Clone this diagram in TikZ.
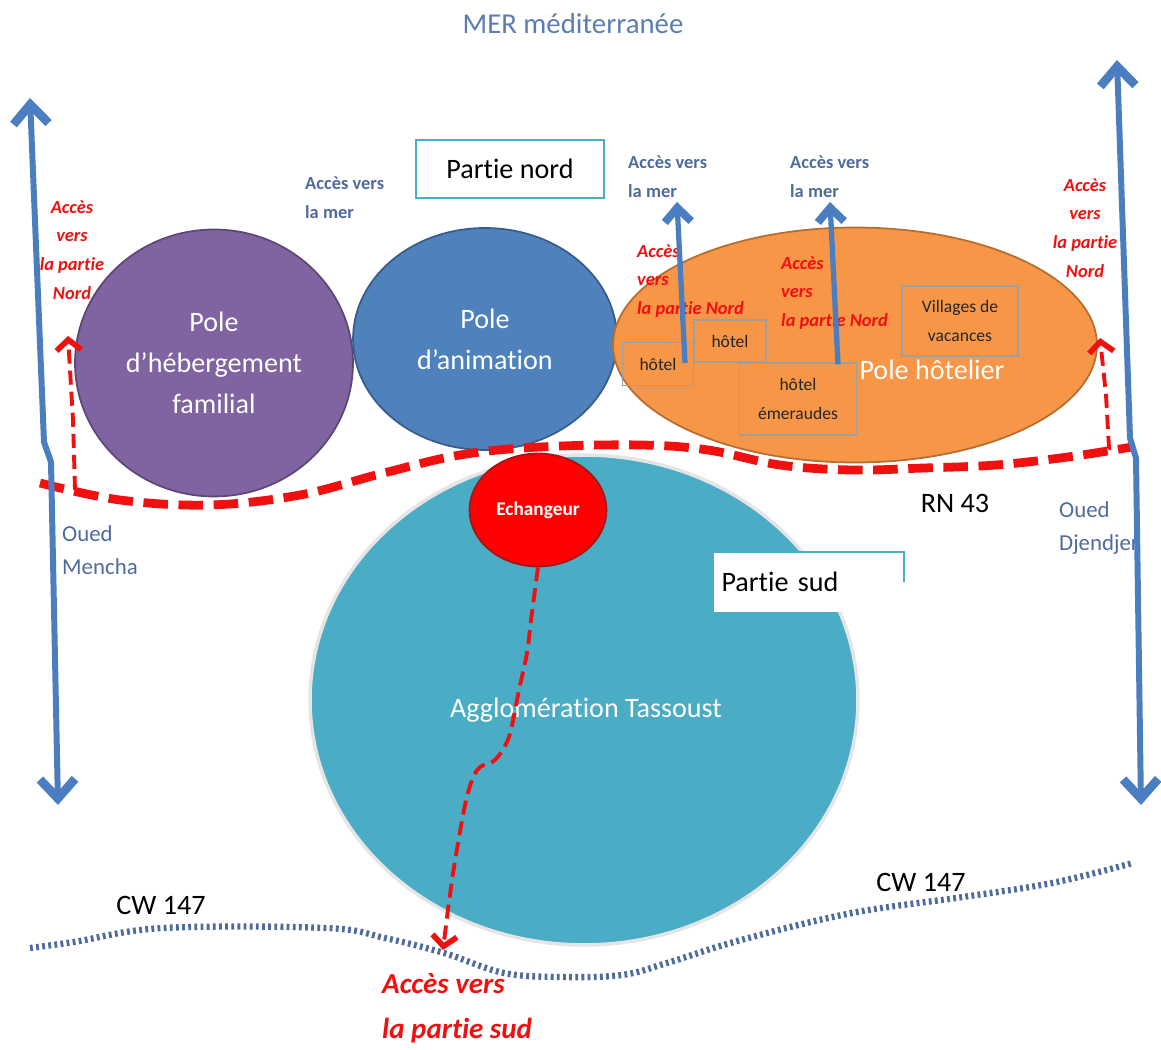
\documentclass[tikz,border=0pt]{standalone}
\usepackage{fontspec}
\setmainfont{Carlito}[Ligatures=NoCommon]
\usepackage{tikz}
\usetikzlibrary{shapes.geometric, arrows.meta, calc}
\definecolor{poleViolet}{HTML}{8064A2}
\definecolor{poleVioletDark}{HTML}{5C4776}
\definecolor{poleBleu}{HTML}{4F81BD}
\definecolor{poleBleuDark}{HTML}{385D8A}
\definecolor{poleOrange}{HTML}{F79646}
\definecolor{poleOrangeDark}{HTML}{B66D31}
\definecolor{aggloTeal}{HTML}{4BACC6}
\definecolor{echRouge}{HTML}{FF0000}
\definecolor{echRougeDark}{HTML}{A01818}
\definecolor{oued}{HTML}{4A7EC0}
\definecolor{ardoise}{HTML}{4F6B9C}
\definecolor{titreBleu}{HTML}{5B7DB0}
\definecolor{routeRouge}{HTML}{F01010}

\begin{document}
\begin{tikzpicture}[
    x=0.02cm, y=-0.02cm,
    pole/.style={
        ellipse, draw, line width=1pt, inner sep=0pt,
        text=white, align=center, font=\fontsize{16}{23.3}\selectfont
    },
    hotelbox/.style={draw=gray!75, line width=0.6pt, inner sep=0pt,
        align=center, text=black!85, font=\fontsize{10}{16.5}\selectfont},
    partie/.style={draw=aggloTeal, line width=1.2pt, fill=white,
        font=\fontsize{16}{19}\selectfont},
    merlabel/.style={text=ardoise, align=left, anchor=west,
        font=\bfseries\fontsize{10.5}{16.5}\selectfont},
    nordlabel/.style={text=routeRouge, font=\bfseries\itshape\fontsize{10.5}{16.3}\selectfont},
    ouedlabel/.style={text=ardoise, align=left, anchor=west,
        font=\fontsize{13}{19}\selectfont},
    routelabel/.style={text=black, font=\fontsize{16}{19}\selectfont},
    river/.style={draw=oued, line width=3.4pt, line join=round,
        {Straight Barb[length=11pt,width=20pt,line width=5pt]}-{Straight Barb[length=11pt,width=20pt,line width=5pt]}},
    merarrow/.style={draw=oued, line width=3pt, -{Straight Barb[length=8pt,width=15pt,line width=4.5pt]}},
    rn/.style={draw=routeRouge, line width=5pt, dash pattern=on 14pt off 6pt},
    acces/.style={draw=routeRouge, line width=2.2pt, line join=round,
        dash pattern=on 8pt off 4pt, -{Straight Barb[length=6pt,width=14pt,line width=3.2pt]}},
    cw/.style={draw=ardoise, line width=3.6pt, dash pattern=on 1.6pt off 1.9pt},
]
    \useasboundingbox (0,0) rectangle (1161,1050);

    % poles
    \node[pole, fill=aggloTeal, draw=gray!20, line width=2pt,
        minimum width=10.96cm, minimum height=9.8cm] (agglo) at (584,700) {};
    \node[text=white, font=\fontsize{16}{19}\selectfont] (aggloTxt) at (586,710) {Agglomération Tassoust};
    \node[pole, fill=poleViolet, draw=poleVioletDark,
        minimum width=5.56cm, minimum height=5.34cm] (familial) at (214,363) {Pole\\d’hébergement\\familial};
    \node[pole, fill=poleBleu, draw=poleBleuDark,
        minimum width=5.28cm, minimum height=4.44cm] (animation) at (485,339) {Pole\\d’animation};
    \node[pole, fill=poleOrange, draw=poleOrangeDark,
        minimum width=9.68cm, minimum height=4.7cm] (hotelier) at (855,345) {};
    \node[pole, fill=echRouge, draw=echRougeDark, minimum width=2.74cm, minimum height=2.26cm,
        font=\bfseries\fontsize{11}{13}\selectfont] (echangeur) at (538,510) {Echangeur};

    % hotels
    \node[hotelbox, minimum width=1.42cm, minimum height=0.86cm] (hotelA) at (658,364) {hôtel};
    \node[hotelbox, minimum width=1.44cm, minimum height=0.84cm] (hotelB) at (730,341) {hôtel};
    \node[hotelbox, minimum width=2.34cm, minimum height=1.44cm] (emeraudes) at (798,399) {hôtel\\émeraudes};
    \node[hotelbox, minimum width=2.32cm, minimum height=1.4cm] (villages) at (960,321) {Villages de\\vacances};
    \node[text=white, font=\fontsize{16}{19}\selectfont] (hotelierTxt) at (932,370) {Pole hôtelier};

    % parties
    \node[partie, minimum width=3.76cm, minimum height=1.16cm] (nord) at (510,169) {Partie nord};
    \node[fill=white, inner sep=4pt, minimum height=1.2cm, text width=3.5cm, align=left,
        font=\fontsize{16}{19}\selectfont] (sud) at (809,582) {Partie sud};
    \draw[aggloTeal, line width=1.2pt] (sud.north west) -- (sud.north east) -- (sud.east);

    % labels
    \node[text=titreBleu, font=\fontsize{16.4}{20}\selectfont] (mer) at (573,24) {MER méditerranée};
    \node[merlabel] (merA) at (622,177) {Accès vers\\la mer};
    \node[merlabel] (merB) at (784,177) {Accès vers\\la mer};
    \node[merlabel] (merC) at (299,198) {Accès vers\\la mer};
    \node[nordlabel, align=center] (nordOuest) at (72,250) {Accès\\vers\\la partie\\Nord};
    \node[nordlabel, align=left, anchor=west] (nordHotelA) at (631,281) {Accès\\vers\\la partie Nord};
    \node[nordlabel, align=left, anchor=west] (nordHotelB) at (775,293) {Accès\\vers\\la partie Nord};
    \node[nordlabel, align=center] (nordEst) at (1085,228) {Accès\\vers\\la partie\\Nord};
    \node[ouedlabel] (mencha) at (56,550) {Oued\\Mencha};
    \node[ouedlabel] (djendjer) at (1053,528) {Oued\\Djendjer};
    \node[routelabel] (rn43) at (955,503) {RN 43};
    \node[routelabel] (cwOuest) at (161,905) {CW 147};
    \node[routelabel] (cwEst) at (921,882) {CW 147};
    \node[text=routeRouge, align=left, anchor=west,
        font=\bfseries\itshape\fontsize{16.5}{25.6}\selectfont] (accesSud) at (376,1008) {Accès vers\\la partie sud};

    % acces vers la mer
    \coordinate (merDepartA) at ($(hotelA.east)+(-9,-1)$);
    \coordinate (merFinA) at (677,202);
    \coordinate (merDepartB) at ($(emeraudes.north)+(40,2)$);
    \coordinate (merFinB) at (830,202);
    \draw[merarrow] (merDepartA) -- (merFinA);
    \draw[merarrow] (merDepartB) -- (merFinB);

    % routes
    \draw[rn] plot[smooth, tension=0.6] coordinates {(40,483) (120,500) (210,505) (300,495) (380,474)
        (460,455) (540,447) (640,445) (708,450) (780,465) (852,470) (924,468) (996,465) (1068,457) (1132,447)};
    \draw[cw] plot[smooth, tension=0.6] coordinates {(30,948) (74,942) (163,928) (326,928) (385,938)
        (444,953) (504,973) (563,977) (622,975) (667,963) (741,940) (852,913) (963,897) (1052,883) (1133,863)};

    \coordinate (rnOuest) at (75,490);
    \coordinate (nordTipOuest) at (68,336);
    \coordinate (rnEst) at (1132,447);
    \coordinate (nordTipEst) at (1100,338);
    \coordinate (sudTip) at (443,950);
    \draw[acces] (rnOuest) -- (73,420) -- (nordTipOuest);
    \draw[acces] (rnEst) -- (1109,448) -- (1106,395) -- (nordTipEst);
    \draw[acces] plot[smooth, tension=0.5] coordinates {(echangeur.south) (531,620) (527,653) (519,690)
        (509,737) (495,760) (480,767) (472,780) (464,810) (452,880) (sudTip)};

    % oueds
    \draw[river] (30,98) -- (44,442) -- (51,462) -- (58,805);
    \draw[river] (1117,60) -- (1130,438) -- (1136,458) -- (1141,805);
\end{tikzpicture}
\end{document}
